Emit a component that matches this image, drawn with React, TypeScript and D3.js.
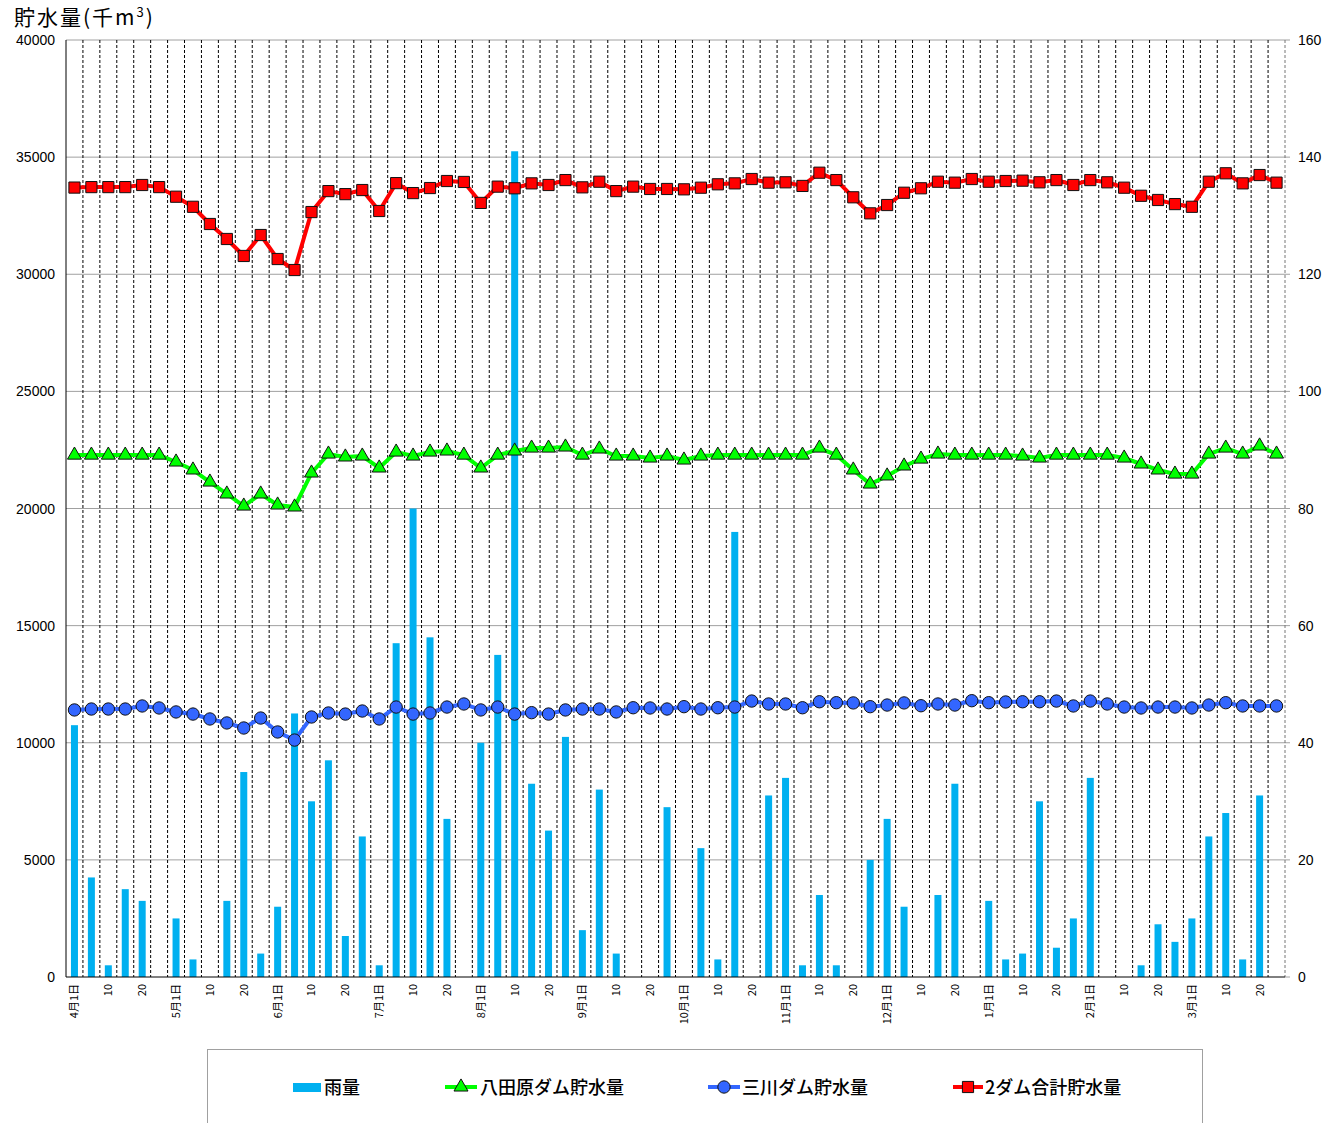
import React from "react";
import * as d3 from "d3";

// 月 (4月〜3月), 1ヶ月 6 区分 (5日ごと)
const MONTHS = [4, 5, 6, 7, 8, 9, 10, 11, 12, 1, 2, 3];
const SUB_LABELS = ["1日", "", "10", "", "20", ""];

// 雨量 (mm) 右軸
const rain = [
  43, 17, 2, 15, 13, 0,
  10, 3, 0, 13, 35, 4,
  12, 45, 30, 37, 7, 24,
  2, 57, 80, 58, 27, 0,
  40, 55, 141, 33, 25, 41,
  8, 32, 4, 0, 0, 29,
  0, 22, 3, 76, 0, 31,
  34, 2, 14, 2, 0, 20,
  27, 12, 0, 14, 33, 0,
  13, 3, 4, 30, 5, 10,
  34, 0, 0, 2, 9, 6,
  10, 24, 28, 3, 31, 0,
];

// 八田原ダム貯水量 (千m3)
const hattabara = [
  22280, 22280, 22280, 22280, 22280, 22280,
  21985, 21645, 21130, 20620, 20105, 20620,
  20150, 20065, 21515, 22325, 22200, 22240,
  21730, 22410, 22240, 22410, 22455, 22280,
  21730, 22280, 22455, 22580, 22580, 22625,
  22280, 22540, 22240, 22240, 22155, 22240,
  22070, 22240, 22280, 22280, 22280, 22280,
  22280, 22280, 22580, 22280, 21645, 21045,
  21390, 21815, 22110, 22325, 22280, 22280,
  22280, 22280, 22240, 22155, 22280, 22280,
  22280, 22280, 22155, 21900, 21645, 21470,
  21470, 22325, 22580, 22325, 22670, 22325,
];

// 三川ダム貯水量 (千m3)
const mikawa = [
  11400, 11440, 11440, 11440, 11570, 11485,
  11315, 11225, 11015, 10845, 10630, 11055,
  10460, 10115, 11100, 11270, 11225, 11355,
  11015, 11525, 11225, 11270, 11525, 11655,
  11400, 11525, 11225, 11285, 11225, 11400,
  11440, 11440, 11315, 11495, 11485, 11440,
  11540, 11440, 11495, 11525, 11780, 11655,
  11655, 11495, 11750, 11710, 11700, 11540,
  11610, 11700, 11580, 11655, 11610, 11795,
  11710, 11740, 11750, 11750, 11780, 11570,
  11780, 11655, 11525, 11485, 11525, 11525,
  11485, 11610, 11710, 11570, 11570, 11570,
];

// 2ダム合計貯水量 (千m3)
const total = [
  33700, 33720, 33720, 33720, 33810, 33720,
  33310, 32880, 32145, 31505, 30780, 31675,
  30650, 30180, 32655, 33550, 33420, 33595,
  32700, 33890, 33465, 33680, 33980, 33940,
  33045, 33740, 33670, 33880, 33810, 34020,
  33710, 33950, 33550, 33740, 33640, 33640,
  33625, 33695, 33840, 33880, 34065, 33910,
  33925, 33770, 34335, 34020, 33285, 32600,
  32955, 33480, 33670, 33950, 33910, 34065,
  33950, 33980, 33995, 33925, 34020, 33810,
  34020, 33925, 33695, 33350, 33170, 32995,
  32880, 33950, 34310, 33880, 34235, 33910,
];

const leftTicks = [0, 5000, 10000, 15000, 20000, 25000, 30000, 35000, 40000];
const rightTicks = [0, 20, 40, 60, 80, 100, 120, 140, 160];

const W = 1340;
const H = 1123;
const left = 66;
const right = 1285;
const top = 40;
const bottom = 977;

const numFont = "'Liberation Sans', Arial, 'Noto Sans CJK JP', sans-serif";
const jpFont = "'Noto Sans CJK JP', sans-serif";

export default function App() {
  const slots = MONTHS.flatMap((m) =>
    SUB_LABELS.map((s, j) => (j === 0 ? `${m}月${s}` : s))
  );
  const idx = slots.map((_, i) => i);

  const x = d3.scaleBand<number>().domain(idx).range([left, right]).padding(0);
  const bw = x.bandwidth();
  const cx = (i: number) => (x(i) as number) + bw / 2;

  const yL = d3.scaleLinear().domain([0, 40000]).range([bottom, top]);
  const yR = d3.scaleLinear().domain([0, 160]).range([bottom, top]);

  const line = d3
    .line<number>()
    .x((_, i) => cx(i))
    .y((d) => yL(d));

  const sq = d3.symbol().type(d3.symbolSquare).size(125)()!;
  const tri = d3.symbol().type(d3.symbolTriangle).size(85)()!;
  const circ = d3.symbol().type(d3.symbolCircle).size(120)()!;

  const series = [
    { data: hattabara, color: "#00FF00", path: tri },
    { data: mikawa, color: "#3366FF", path: circ },
    { data: total, color: "#FF0000", path: sq },
  ];

  const barW = 7;

  return (
    <svg
      width={W}
      height={H}
      style={{ position: "absolute", left: 0, top: 0, background: "#fff" }}
    >
      <text x={14} y={25} fontSize={21} fontFamily={jpFont} fill="#000" letterSpacing={2}>
        貯水量(千m<tspan fontSize={13} dy={-8}>3</tspan>
        <tspan dy={8}>)</tspan>
      </text>

      {/* horizontal grid */}
      {leftTicks.slice(1).map((t) => (
        <line
          key={t}
          x1={left}
          x2={right + 5}
          y1={yL(t)}
          y2={yL(t)}
          stroke="#A0A0A0"
          strokeWidth={1}
        />
      ))}
      <line x1={right} x2={right + 5} y1={bottom} y2={bottom} stroke="#A0A0A0" />

      {/* vertical dashed lines */}
      {idx.map((i) => (
        <line
          key={i}
          x1={(x(i) as number) + bw}
          x2={(x(i) as number) + bw}
          y1={top}
          y2={bottom}
          stroke={i === idx.length - 1 ? "#777" : "#000"}
          strokeWidth={1}
          strokeDasharray="3,2"
        />
      ))}

      {/* rain bars */}
      {rain.map((r, i) =>
        r > 0 ? (
          <rect
            key={i}
            x={cx(i) - barW / 2}
            y={yR(r)}
            width={barW}
            height={bottom - yR(r)}
            fill="#00B0F0"
          />
        ) : null
      )}

      {/* axes */}
      <line x1={left} x2={left} y1={top} y2={bottom} stroke="#000" />
      <line x1={left} x2={right} y1={bottom} y2={bottom} stroke="#000" />

      {leftTicks.map((t) => (
        <text
          key={t}
          x={55}
          y={yL(t) + 5}
          textAnchor="end"
          fontSize={14}
          fontFamily={numFont}
        >
          {t}
        </text>
      ))}
      {rightTicks.map((t) => (
        <text key={t} x={1298} y={yR(t) + 5} fontSize={14} fontFamily={numFont}>
          {t}
        </text>
      ))}

      {/* x labels */}
      {slots.map((s, i) =>
        s ? (
          <text
            key={i}
            transform={`translate(${cx(i) + 4},984) rotate(-90)`}
            textAnchor="end"
            fontSize={11}
            fontFamily={jpFont}
          >
            {s}
          </text>
        ) : null
      )}

      {/* lines */}
      {series.map((s, k) => (
        <g key={k}>
          <path d={line(s.data)!} fill="none" stroke={s.color} strokeWidth={4} />
          {s.data.map((v, i) => (
            <path
              key={i}
              d={s.path}
              transform={`translate(${cx(i)},${yL(v)})`}
              fill={s.color}
              stroke="#111"
              strokeWidth={1}
            />
          ))}
        </g>
      ))}

      {/* legend */}
      <rect x={207.5} y={1049.5} width={995} height={90} fill="#fff" stroke="#A0A0A0" />
      <g fontSize={18} fontFamily={jpFont} fontWeight={500}>
        <rect x={293} y={1083} width={28} height={9} fill="#00B0F0" />
        <text x={324} y={1094}>雨量</text>

        <line x1={445} x2={477} y1={1087} y2={1087} stroke="#00FF00" strokeWidth={4} />
        <path d={tri} transform="translate(461,1087)" fill="#00FF00" stroke="#111" />
        <text x={480} y={1094}>八田原ダム貯水量</text>

        <line x1={708} x2={740} y1={1087} y2={1087} stroke="#3366FF" strokeWidth={4} />
        <path d={circ} transform="translate(724,1087)" fill="#3366FF" stroke="#111" />
        <text x={742} y={1094}>三川ダム貯水量</text>

        <line x1={953} x2={983} y1={1087} y2={1087} stroke="#FF0000" strokeWidth={4} />
        <path d={sq} transform="translate(968,1087)" fill="#FF0000" stroke="#111" />
        <text x={985} y={1094}>2ダム合計貯水量</text>
      </g>
    </svg>
  );
}
